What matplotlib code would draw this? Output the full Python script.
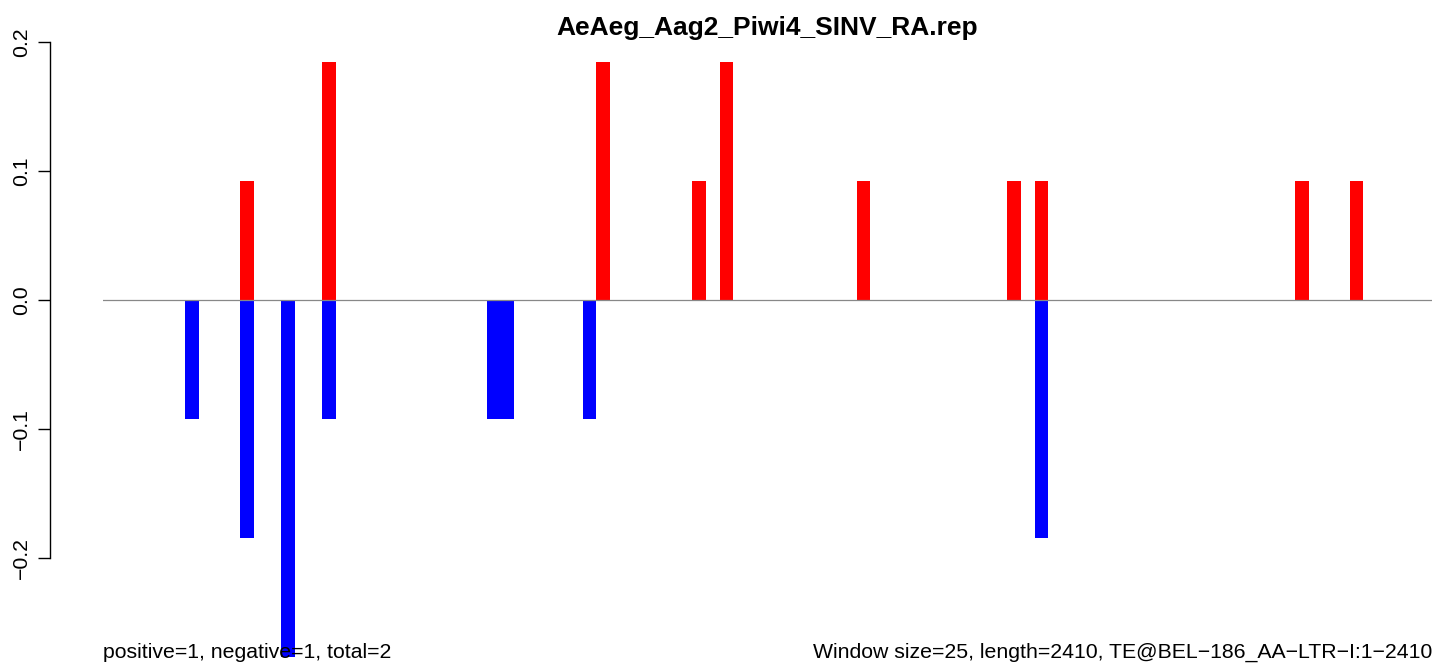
import numpy as np
import matplotlib
matplotlib.use("Agg")
import matplotlib.pyplot as plt

plt.rcParams['font.family'] = ['Liberation Sans', 'DejaVu Sans']

# window index (25 nt windows), values
title = "AeAeg_Aag2_Piwi4_SINV_RA.rep"
n_windows = 97
pos_idx = [10, 16, 36, 43, 45, 55, 66, 68, 87, 91]
pos_val = [0.0923, 0.1846, 0.1846, 0.0923, 0.1846, 0.0923, 0.0923, 0.0923, 0.0923, 0.0923]
neg_idx = [6, 10, 13, 16, 28, 29, 35, 68]
neg_val = [-0.0923, -0.1846, -0.2769, -0.0923, -0.0923, -0.0923, -0.0923, -0.1846]
yticks = [-0.2, -0.1, 0.0, 0.1, 0.2]
left_note = "positive=1, negative=1, total=2"
right_note = "Window size=25, length=2410, TE@BEL\u2212186_AA\u2212LTR\u2212I:1\u22122410"

W, H = 1439, 666
fig = plt.figure(figsize=(W/100, H/100), dpi=100)
ax = fig.add_axes([103/W, 0, 1329/W, 624/H])

ax.bar(pos_idx, pos_val, width=1, align='edge', color='red', linewidth=0)
ax.bar(neg_idx, neg_val, width=1, align='edge', color='blue', linewidth=0)
ax.axhline(0, color='#888888', lw=0.9, zorder=3)

ax.set_xlim(0, n_windows)
ax.set_ylim(-0.2837, 0.2)

for s in ['top', 'right', 'bottom']:
    ax.spines[s].set_visible(False)
ax.spines['left'].set_position(('outward', 38))
ax.spines['left'].set_bounds(-0.2, 0.2)
ax.spines['left'].set_linewidth(1.0)
ax.set_xticks([])
ax.set_yticks(yticks)
ax.set_yticklabels([f"{v:.1f}".replace('-', '\u2212') for v in yticks],
                   rotation=90, va='center', fontsize=15.3)
ax.tick_params(axis='y', length=8.6, width=1.0, pad=5)

fig.text(767.5/W, 1 - 28/H, title, ha='center', va='center',
         fontsize=19, fontweight='bold')
fig.text(103/W, 1 - 652/H, left_note, ha='left', va='center', fontsize=15.3)
fig.text(1432/W, 1 - 652/H, right_note, ha='right', va='center', fontsize=15.3)

fig.savefig("out.png", dpi=100)
